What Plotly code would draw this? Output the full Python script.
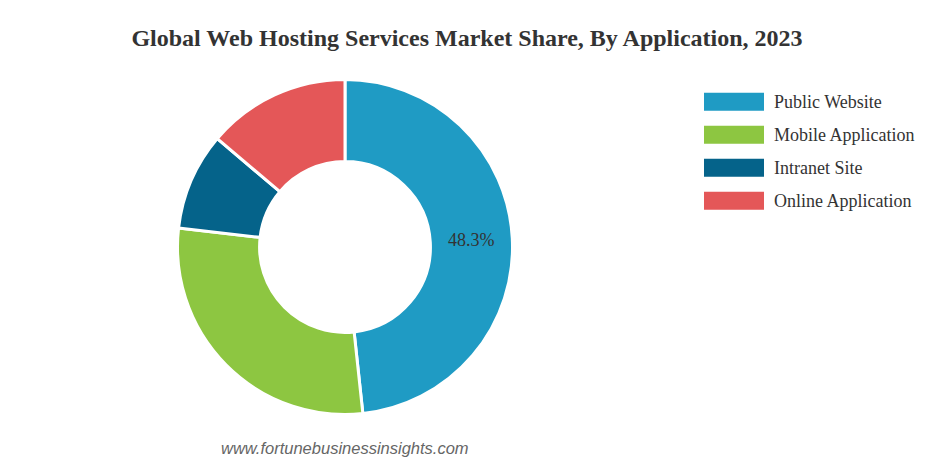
import plotly.graph_objects as go

categories = ["Public Website", "Mobile Application", "Intranet Site", "Online Application"]
shares = [48.3, 28.5, 9.4, 13.8]
colors = ["#1f9bc4", "#8dc641", "#05638a", "#e45758"]
shown_labels = [True, False, False, False]

W, H = 934, 465
fig = go.Figure()
fig.add_trace(go.Pie(
    labels=categories,
    values=shares,
    hole=0.51,
    sort=False,
    direction="clockwise",
    rotation=0,
    marker=dict(colors=colors, line=dict(color="#ffffff", width=3)),
    texttemplate=["%{percent:.1%}" if s else "" for s in shown_labels],
    textposition="inside",
    insidetextorientation="horizontal",
    textfont=dict(family="Liberation Serif", size=18, color="#333333"),
    domain=dict(x=[(345 - 167.5) / W, (345 + 167.5) / W], y=[1 - 414.5 / H, 1 - 79.5 / H]),
    showlegend=False,
    hoverinfo="skip",
))

# custom legend
shapes = []
annotations = []
y0 = 101.7
step = 33
for i, (cat, col) in enumerate(zip(categories, colors)):
    yc = y0 + i * step
    shapes.append(dict(type="rect", xref="paper", yref="paper",
                       x0=704 / W, x1=764 / W, y0=1 - (yc + 9) / H, y1=1 - (yc - 9) / H,
                       fillcolor=col, line=dict(width=0)))
    annotations.append(dict(xref="paper", yref="paper", x=772 / W, y=1 - yc / H,
                            xanchor="left", yanchor="middle", showarrow=False, text=cat,
                            font=dict(family="Liberation Serif", size=18, color="#333333")))

annotations.append(dict(xref="paper", yref="paper", x=345 / W, y=1 - 448 / H,
                        xanchor="center", yanchor="middle", showarrow=False,
                        text="<i>www.fortunebusinessinsights.com</i>",
                        font=dict(family="Liberation Sans", size=16.5, color="#666666")))

fig.update_layout(
    width=W, height=H,
    margin=dict(l=0, r=0, t=0, b=0),
    paper_bgcolor="#ffffff", plot_bgcolor="#ffffff",
    title=dict(text="<b>Global Web Hosting Services Market Share, By Application, 2023</b>",
               x=467 / W, xanchor="center", y=1 - 38 / H, yanchor="middle",
               font=dict(family="Liberation Serif", size=24, color="#333333")),
    shapes=shapes, annotations=annotations,
)
fig.write_html("out.html", config={"displayModeBar": False},
               post_script="document.body.style.margin='0';document.body.style.overflow='hidden';")
